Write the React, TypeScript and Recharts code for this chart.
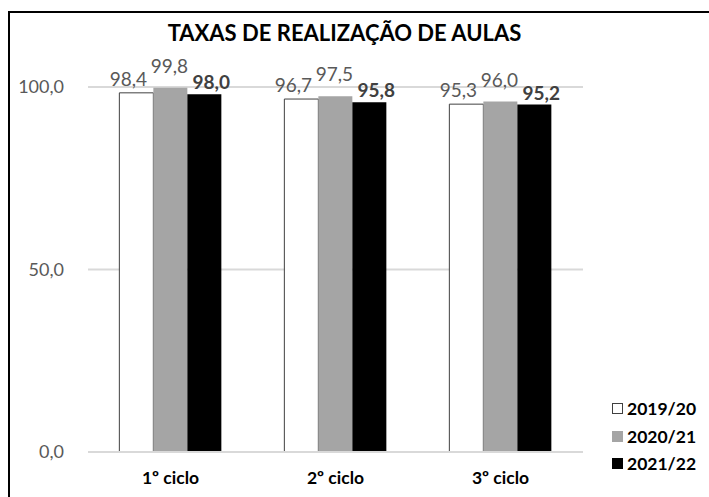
import React from 'react';
import { BarChart, Bar, XAxis, YAxis, CartesianGrid, LabelList } from 'recharts';

const categories = ['1º ciclo', '2º ciclo', '3º ciclo'];
const y2019 = [98.4, 96.7, 95.3];
const y2020 = [99.8, 97.5, 96.0];
const y2021 = [98.0, 95.8, 95.2];
const yTicks = [0, 50, 100];

const FONT = 'Lato, "Liberation Sans", Arial, sans-serif';

const data = categories.map((c, i) => ({
  name: c,
  a: y2019[i],
  b: y2020[i],
  c: y2021[i],
}));

const fmt = (v: unknown) => Number(v).toFixed(1).replace('.', ',');

// label nudges mimic the hand-placed labels of the original
const series = [
  { key: 'a', name: '2019/20', fill: '#ffffff', stroke: '#404040', labelColor: '#595959', bold: false, dx: -8, gap: 7 },
  { key: 'b', name: '2020/21', fill: '#a5a5a5', stroke: 'none', labelColor: '#595959', bold: false, dx: -1, gap: 15 },
  { key: 'c', name: '2021/22', fill: '#000000', stroke: 'none', labelColor: '#404040', bold: true, dx: 7, gap: 5 },
];

const makeLabel = (s: (typeof series)[number]) => (props: any) => {
  const { x, y, width, value } = props;
  return (
    <text
      x={Number(x) + Number(width) / 2 + s.dx}
      y={Number(y) - s.gap}
      textAnchor="middle"
      fontFamily={FONT}
      fontSize={19}
      fontWeight={s.bold ? 700 : 400}
      fill={s.labelColor}
    >
      {fmt(value)}
    </text>
  );
};

function LegendBox() {
  return (
    <div
      style={{
        position: 'absolute',
        left: 612,
        top: 395,
        fontFamily: FONT,
        fontWeight: 700,
        fontSize: 17.5,
        color: '#000',
      }}
    >
      {series.map((s) => (
        <div key={s.key} style={{ display: 'flex', alignItems: 'center', height: 27.5 }}>
          <span
            style={{
              display: 'inline-block',
              width: 11,
              height: 11,
              marginRight: 4,
              background: s.fill,
              border: s.key === 'a' ? '1px solid #404040' : 'none',
              boxSizing: 'border-box',
            }}
          />
          {s.name}
        </div>
      ))}
    </div>
  );
}

export default function App() {
  return (
    <div style={{ position: 'fixed', left: 0, top: 0, width: 709, height: 497, background: '#fff' }}>
      <BarChart
        width={709}
        height={497}
        data={data}
        margin={{ top: 87, right: 126, bottom: 15, left: 0 }}
        barCategoryGap="19%"
        barGap={0}
        style={{ position: 'absolute', left: 0, top: 0 }}
      >
        <CartesianGrid vertical={false} stroke="#d9d9d9" strokeWidth={2} />
        <XAxis
          dataKey="name"
          height={30}
          tickLine={false}
          axisLine={{ stroke: '#d9d9d9', strokeWidth: 2 }}
          tick={{ fontFamily: FONT, fontSize: 17.5, fontWeight: 700, fill: '#000' }}
          tickMargin={14}
        />
        <YAxis
          width={88}
          domain={[0, 100]}
          ticks={yTicks}
          tickFormatter={fmt}
          tickLine={false}
          axisLine={false}
          tickMargin={18}
          tick={{ fontFamily: FONT, fontSize: 18, fill: '#595959' }}
        />
        {series.map((s) => (
          <Bar
            key={s.key}
            dataKey={s.key}
            name={s.name}
            fill={s.fill}
            stroke={s.stroke}
            strokeWidth={1}
            isAnimationActive={false}
          >
            <LabelList dataKey={s.key} content={makeLabel(s)} />
          </Bar>
        ))}
      </BarChart>
      <div
        style={{
          position: 'absolute',
          left: 8,
          top: 11,
          width: 701,
          height: 486,
          borderLeft: '2px solid #000',
          borderTop: '2px solid #000',
          boxSizing: 'border-box',
          pointerEvents: 'none',
        }}
      />
      <div
        style={{
          position: 'absolute',
          left: 0,
          top: 19,
          width: 689,
          textAlign: 'center',
          fontFamily: FONT,
          fontWeight: 700,
          fontSize: 22,
          color: '#000',
        }}
      >
        TAXAS DE REALIZAÇÃO DE AULAS
      </div>
      <LegendBox />
    </div>
  );
}
